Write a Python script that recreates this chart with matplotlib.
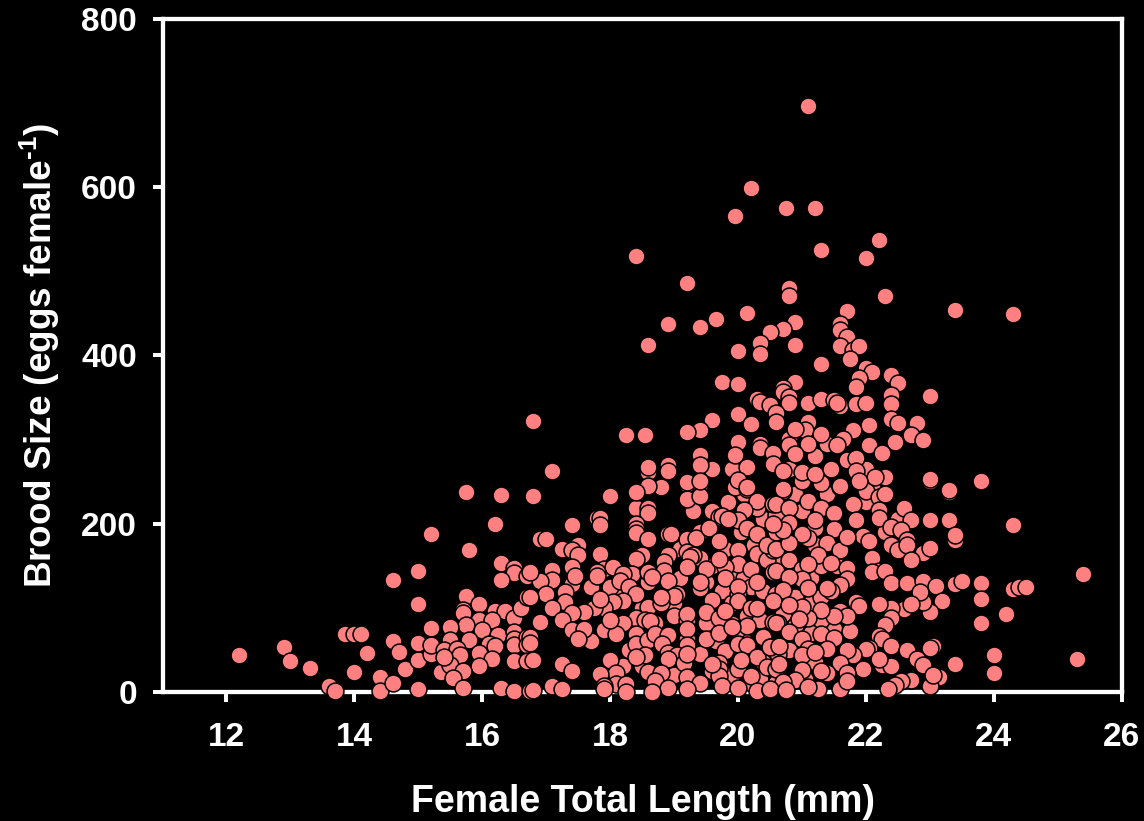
import numpy as np
import matplotlib
matplotlib.use('Agg')
import matplotlib.pyplot as plt

plt.rcParams['font.family'] = ['Liberation Sans', 'DejaVu Sans']
plt.rcParams['font.weight'] = 'bold'
plt.rcParams['mathtext.fontset'] = 'custom'
plt.rcParams['mathtext.bf'] = 'Liberation Sans:bold'
plt.rcParams['mathtext.rm'] = 'Liberation Sans:bold'

# region by region (length mm, eggs per female)
x_left = [12.2,12.9,13.0,13.3,13.6,13.7,13.85,14.0,14.1,14.2,14.0,14.4,14.4,14.6,14.6,14.6,14.7,14.8,15.0,15.0,15.0,15.0,15.0,15.2,15.2,15.2,15.2]
y_left = [44,53,36,28,7,1,68,68,68,46,23,17,1,10,60,133,47,27,38,58,3,143,104,187,76,45,55]

x_low = [15.75,16.3,16.2,15.8,16.3,16.5,16.5,16.3,16.7,15.75,15.95,15.7,15.7,16.2,16.35,16.5,16.6,16.7,15.95,15.75,16.15,16,15.5,15.5,15.8,16.25,16.5,16.5,16.5,16.7,16.7,16.1,16.2,15.4,15.6,15.65,15.95,16.15,15.95,16.5,16.7,15.35,15.5,15.7,15.55,15.7,16.3,16.5,16.75,15.4]
y_low = [238,234,200,169,153,147,141,133,138,114,104,97,93,96,96,88,100,112,85,79,85,73,77,61,61,67,71,62,55,65,55,57,54,50,51,44,46,39,30,36,36,23,31,25,16,4,4,1,1,41]

x_mid = [16.8,18.0,18.4,18.6,18.8,19.2,19.4,19.2,19.4,20.0,19.95,20.15,20.3,20.3,20.1,20.55,18.4,18.6,18.6,17.8,17.85,17.85,17.4,18.4,18.4,18.4,18.6,18.9,18.95,19.2,19.35,19.7,19.75,19.55,20.0,19.85,20.15,20.3,19.7,
         16.9,17.0,17.25,17.5,17.4,17.5,17.85,18.5,18.4,18.9,18.85,18.85,18.9,19.2,19.4,19.3,19.25,19.5,19.2,20.0,20.0,19.8,19.7,19.8,20.2,20.3,20.45,20.55,20.55,20.45,20.6,
         17.4,17.9,18.05,17.8,17.8,17.1,17.1,16.9,16.75,17.4,17.45,17.3,17.3,17,17.1,16.75,18.35,18.2,18.15,18.6,18.6,18.65,18.3,18.4,19.05,19,19.4,19.4,20,20,20,20.3,20.2,20.3,19.6,20.55,20.6,
         18.2,18.05,17.9,17.75,17.85,17.6,17.4,17.25,18.6,18.8,18.8,18.4,18.7,18.55,18.62,16.9,19,19.2,19.2,19.5,19.5,19.7,19.8,17.4,17.6,17.5,18.05,17.9,18.2,18.1,18,
         18.4,18.4,18.6,18.7,18.9,18.82,19.2,19.2,19.2,19.5,19.7,20,20.15,19.9,20.55,20.63,16.75,16.75,16.8,18.55,18.4,18.9,19.05,18.9,19.15,19.2,
         19.8,20,20.15,20.3,20.5,20.63,19.7,20,19.7,19.7,20.05,20.2,19.6,20.55,20.45,17.25,17.4,18,18.1,17.85,18.1,18.25,18.25,17.9,17.9,
         18.6,18.8,18.7,18.9,18.65,19.2,19.4,19.2,19.75,20,20.3,20.5,20.6,17.1,17.25,16.8]
y_mid = [233,233,238,245,243,247,247,229,233,248,243,241,219,227,216,223,218,218,212,207,207,198,198,200,194,189,181,187,187,181,183,208,209,195,204,205,195,188,179,
         181,182,170,174,168,162,164,162,158,162,154,144,131,166,159,162,160,146,148,169,152,148,158,135,146,164,156,168,142,174,190,
         148,146,148,142,138,145,133,132,142,128,138,118,106,116,100,112,140,140,132,130,142,136,124,116,116,114,123,130,116,124,108,130,100,100,109,106,116,
         108,106,100,100,110,95,94,85,101,105,112,88,81,85,84,83,90,85,92,81,95,88,96,73,75,63,77,73,81,69,85,
         69,57,61,69,67,57,63,75,55,63,70,74,78,77,83,81,65,58,37,44,41,46,43,39,34,45,
         48,57,55,41,53,45,34,27,27,19,37,19,33,27,29,33,24,38,22,21,9,9,0,6,3,
         23,22,13,4,0,17,10,3,7,4,1,2,10,7,3,2]

x_right = [20.7,21.1,21.4,21.6,21.9,22,21.3,22.2,22.3,22.2,22.2,20.6,20.8,21.3,21.5,21.8,20.8,21.2,21.5,21.1,21.0,21.85,22.6,22.7,23,23.3,23.3,23,23.8,24.3,
           22.4,22.55,21.95,22.05,22.4,22.65,22.5,22.65,23,23.4,23.4,22.7,22.1,22.2,22.1,22.3,20.6,20.8,21.4,21.6,21.7,21.25,20.7,20.55,20.8,21.45,21.7,21,21.1,20.6,
           21,20.8,21.7,21.6,21.45,21.4,21.1,22.4,22.65,22.9,23.1,23.4,23.5,23.8,23.8,24.3,24.4,20.7,20.55,23.2,23,22.9,22.85,22.6,22.4,22.7,22.4,22.3,
           21.85,21.9,22.2,21.6,21.7,21.5,21.3,21.1,21,20.8,20.95,20.6,24.2,23.8,20.8,21.3,21.5,21,20.5,20.65,22.2,22.25,22.4,22.05,22,22.65,23.05,23,22.8,22.9,22.25,22.4,22.2,
           23.4,24,24,21.8,21.4,21.1,21,21.7,21.2,21.6,21.95,21.4,21.7,21.3,21,20.6,20.65,20.9,20.7,21.25,21.1,21.6,21.7,20.5,20.75,23.15,23,22.7,22.55,22.45,22.35,23.05]
y_right = [239,227,235,243,249,239,248,231,235,216,207,223,219,219,212,223,201,204,193,183,188,204,219,204,204,204,237,251,249,198,
           196,192,185,179,175,180,169,174,171,180,186,157,159,143,142,143,170,177,177,169,184,163,192,200,157,153,147,146,152,143,
           134,136,134,127,120,123,123,129,129,131,126,128,131,129,110,122,125,121,108,108,95,106,118,98,100,104,88,79,
           106,102,104,96,90,90,97,88,101,103,86,81,92,81,71,69,64,62,53,54,66,62,54,52,51,49,54,52,39,32,32,30,39,
           33,43,22,44,51,51,44,49,47,34,27,22,22,24,26,27,33,14,11,3,5,3,13,3,2,17,6,14,13,8,3,20]

x_upper = [19.2,20.8,20.8,22.3,23.4,21.7,20.15,19.65,19.4,18.9,18.6,20.9,20.7,20.5,20.35,20.35,20,20.9,21.6,21.6,21.7,21.6,21.8,21.9,21.75,21.3,22,22.1,21.9,21.85,22.4,22.5,22.4,22.4,23,
           19.75,20,20.9,20.7,20.7,20.8,20.8,20.3,20.35,20.5,20.6,20.6,21.1,21.3,21.5,21.6,21.55,21.85,22,20,20.2,19.6,19.4,19.2,18.25,18.55,20,20.35,20.35,21.1,21.05,21.3,21.1,20.8,20.8,20.9,20.9,
           22.4,22.5,22.8,22.7,22.9,22.45,22.05,21.8,21.65,21.55,22.05,22.25,19.4,19.4,18.9,18.9,18.6,18.6,19.95,20.15,20.55,20.55,20.7,21,21.2,21.45,21.7,21.85,21.85,22.15,21.9,21.6,23,23.3,23.8,
           20,20.15,19.2,19.4,18.8,18.6,18.4,20.7]
y_upper = [486,480,471,471,454,453,451,444,434,438,413,440,432,428,415,402,405,413,438,430,422,411,407,411,396,390,385,380,373,362,377,367,353,342,352,
           369,366,368,361,356,350,343,348,345,341,332,321,344,348,347,340,344,342,344,330,319,323,311,309,305,305,297,295,290,321,311,307,295,300,293,313,283,
           324,320,320,305,299,297,317,311,301,293,294,284,281,270,270,262,261,267,281,267,284,271,262,261,259,265,275,278,263,255,251,245,253,240,251,
           252,243,249,250,244,245,238,241]

x_top = [21.1,20.2,19.95,20.75,21.2,21.3,22.2,22,18.4,24.3,16.8,17.1,18,24.5,25.4,25.3]
y_top = [697,599,566,575,575,526,537,516,518,449,322,262,233,125,140,39]

# extra marks in the crowded middle
x_dense = [19.6,19.9,20.1,20.2,20.4,20.7,20.9,21.15,21.3,19.5,19.75,19.9,20.15,20.35,20.7,20.9,21.15,20.4,20.1,19.9,19.65,19.4,19.6,19.9,20.2,20.8,21.2,21.05,20.4,20.35,21.5,21.3,21.75,19.0,18.5,18.3,18.2,17.7,19.0,19.1,
           19.6,19.85,20.4,20.6,20.9,21.0,21.2,21.0,20.25,20.6,20.9,21.15,21.3,21.55,21.2,20.05,19.8,19.4,19.1,18.2,18.5,18.0,17.7,19.3,20.8,21.2,21.4,22,22.1,22.3,22,22.3,22.5,22.9,19.6,19.9,20.1]
y_dense = [150,140,135,125,120,115,112,105,112,130,120,105,90,85,92,78,70,65,60,80,60,45,25,20,10,50,35,15,35,15,75,85,72,20,30,50,30,60,105,135,
           215,225,205,210,235,250,195,215,175,155,145,135,150,150,175,190,170,190,170,115,100,125,125,215,265,280,295,265,245,255,225,190,205,165,265,265,235]

length = np.array(x_left + x_low + x_dense + x_mid + x_right + x_upper + x_top)
brood = np.array(y_left + y_low + y_dense + y_mid + y_right + y_upper + y_top)

x_ticks = [12, 14, 16, 18, 20, 22, 24, 26]
y_ticks = [0, 200, 400, 600, 800]

fig = plt.figure(figsize=(11.44, 8.21), dpi=100, facecolor='black')
ax = fig.add_axes([162.5/1144, 1-691.5/821, (1121.5-162.5)/1144, (691.5-19.5)/821], facecolor='black')

ax.scatter(length, brood, s=148, c='#ff8080', edgecolors='black', linewidths=1.1,
           clip_on=False, zorder=5)

ax.set_xlim(11, 26)
ax.set_ylim(0, 800)
ax.set_xticks(x_ticks)
ax.set_yticks(y_ticks)
for s in ax.spines.values():
    s.set_color('white')
    s.set_linewidth(3.1)
ax.tick_params(colors='white', width=2.9, length=7.5, labelsize=24)
ax.tick_params(axis='x', pad=14.5)
ax.tick_params(axis='y', pad=11)
for t in ax.get_xticklabels() + ax.get_yticklabels():
    t.set_fontweight('bold')

fig.text(643/1144, 1-802/821, 'Female Total Length (mm)', color='white', fontsize=27,
         fontweight='bold', ha='center', va='center')
fig.text(40/1144, 1-355/821, r'Brood Size (eggs female$^{\text{-}\mathbf{1}}$)', color='white', fontsize=26.6,
         fontweight='bold', ha='center', va='center', rotation=90)

fig.savefig('out.png', dpi=100, facecolor='black')
